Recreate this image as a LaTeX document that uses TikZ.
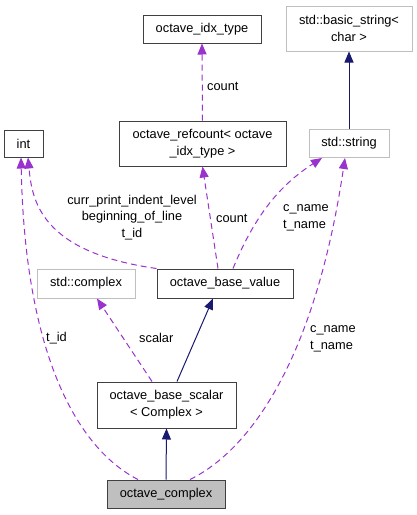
\documentclass[tikz,border=0pt]{standalone}
\usepackage{fontspec}
\setmainfont{Liberation Sans}
\usepackage{tikz}
\usetikzlibrary{arrows.meta}
\usetikzlibrary{positioning}
\definecolor{memberpurple}{HTML}{9A32CD}
\definecolor{inheritnavy}{HTML}{191970}
\definecolor{boxgray}{HTML}{BFBFBF}
\definecolor{boxdark}{HTML}{404040}

\begin{document}
\begin{tikzpicture}
    [
        x = 1pt, y = -1pt,
        every node/.style = {font = \fontsize{12.8}{16.7}\selectfont, inner sep = 0pt, align = center},
        klass/.style = {draw = boxdark, line width = 1pt, fill = white},
        extklass/.style = {draw = boxgray, line width = 1pt, fill = white},
        member/.style = {draw = memberpurple, line width = 1pt, dash pattern = on 6pt off 4pt,
            -{Triangle[length = 11pt, width = 9pt, fill = memberpurple]}},
        inherit/.style = {draw = inheritnavy, line width = 1pt,
            -{Triangle[length = 11pt, width = 9pt, fill = inheritnavy]}},
        edgelabel/.style = {align = center}
    ]
                \useasboundingbox (0,0) rectangle (417,515);

                % Draw the classes:
                \node [klass, minimum width = 118pt, minimum height = 28pt] (idx) at (202,29) {octave\_idx\_type};
                \node [extklass, minimum width = 126pt, minimum height = 45pt] (bstr) at (349,28.5) {std::basic\_string<\\char >};
                \node [klass, minimum width = 39pt, minimum height = 27pt] (int) at (23.5,143.5) {int};
                \node [klass, minimum width = 167pt, minimum height = 45pt] (refc) at (202.5,143.5) {octave\_refcount< octave\\\_idx\_type >};
                \node [extklass, minimum width = 80pt, minimum height = 28pt] (str) at (349,143.5) {std::string};
                \node [extklass, minimum width = 98pt, minimum height = 29pt] (cplx) at (86,283.5) {std::complex};
                \node [klass, minimum width = 136pt, minimum height = 29pt] (bval) at (225,283.5) {octave\_base\_value};
                \node [klass, minimum width = 139pt, minimum height = 46pt] (bscal) at (166.5,405) {octave\_base\_scalar\\< Complex >};
                \node [klass, fill = boxgray, minimum width = 118pt, minimum height = 28pt] (ocplx) at (166,494) {octave\_complex};

                % Draw the inheritance arrows:
                \draw [inherit] (str.north) -- (bstr.south);
                \draw [inherit] ([xshift = 10.5pt]bscal.north) -- ([xshift = -12pt]bval.south);
                \draw [inherit] (ocplx.north) -- (bscal.south);

                % Draw the member arrows:
                \draw [member] (refc.north) -- (idx.south);
                \draw [member] ([xshift = -7pt]bval.north) -- (refc.south);
                \draw [member] (bval.north west) .. controls (40,252) and (32,200) .. ([xshift = 4.5pt]int.south);
                \draw [member] ([xshift = 8pt]bval.north) .. controls (255,215) and (280,185) .. ([xshift = -27pt]str.south);
                \draw [member] ([xshift = -14.5pt]bscal.north) -- ([xshift = 11pt]cplx.south);
                \draw [member] ([xshift = -28pt]ocplx.north) .. controls (80,450) and (25,360) .. ([xshift = -2.5pt]int.south);
                \draw [member] ([xshift = 24pt]ocplx.north) .. controls (250,450) and (315,360) .. ([xshift = -4pt]str.south);

                % Draw the member labels:
                \node [edgelabel, anchor = west] (lcount1) at (207,86) {count};
                \node [edgelabel] (lbval) at (132,217.5) {curr\_print\_indent\_level\\beginning\_of\_line\\t\_id};
                \node [edgelabel, anchor = west] (lcount2) at (216,218) {count};
                \node [edgelabel, align = left, anchor = west] (lnames1) at (283,218) {c\_name\\t\_name};
                \node [edgelabel, anchor = west] (ltid) at (46,338) {t\_id};
                \node [edgelabel, anchor = west] (lscalar) at (139,338) {scalar};
                \node [edgelabel, align = left, anchor = west] (lnames2) at (310,339) {c\_name\\t\_name};
\end{tikzpicture}
\end{document}
